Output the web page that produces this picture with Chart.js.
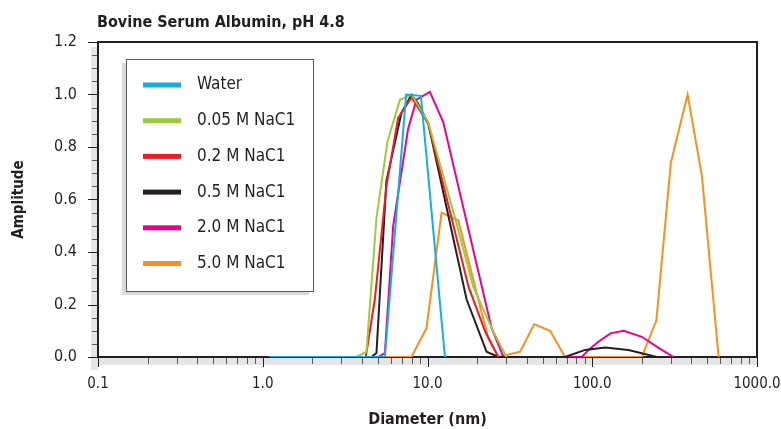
<!DOCTYPE html>
<html>
<head>
<meta charset="utf-8">
<script src="https://cdn.jsdelivr.net/npm/chart.js@4.4.0/dist/chart.umd.min.js"></script>
<style>
    html, body { margin: 0; padding: 0; background: #fff; }
</style>
</head>
<body>
<canvas id="dls" width="781" height="429"></canvas>
<script>
// diameter (nm) / amplitude
const waterD = [1.1, 5.51, 7.42, 9.12, 12.76];
const waterA = [0, 0, 1.0, 0.995, 0];

const nacl005D = [1.1, 3.70, 4.26, 4.90, 5.71, 6.80, 8.0, 10.1, 14.7, 18.9, 25.1, 30.2];
const nacl005A = [0, 0, 0.02, 0.53, 0.82, 0.98, 1.0, 0.895, 0.53, 0.27, 0.096, 0];

const nacl02D = [1.1, 4.22, 4.79, 5.63, 6.63, 8.0, 10.1, 17.7, 22.3, 26.9];
const nacl02A = [0, 0, 0.22, 0.65, 0.91, 0.99, 0.89, 0.27, 0.10, 0];

const nacl05D = [1.1, 4.57, 4.90, 5.63, 6.95, 8.0, 8.78, 10.1, 17.26, 22.84, 26.9, 68.4, 90.5, 119.8, 166, 246.6];
const nacl05A = [0, 0, 0.015, 0.67, 0.93, 1.0, 0.965, 0.89, 0.22, 0.02, 0, 0, 0.027, 0.036, 0.027, 0];

const nacl2D = [1.1, 5.01, 5.51, 6.19, 7.63, 8.57, 10.34, 12.46, 24.5, 28.9, 86.3, 96.2, 109, 129, 155, 200, 252.6, 312];
const nacl2A = [0, 0, 0.015, 0.50, 0.87, 0.98, 1.01, 0.895, 0.11, 0, 0, 0.03, 0.058, 0.09, 0.1, 0.077, 0.035, 0];

const nacl5D = [1.1, 7.99, 9.86, 12.17, 15.37, 23.4, 26.9, 36.5, 44.4, 55.5, 68.4, 200, 245, 300, 379, 463, 585];
const nacl5A = [0, 0, 0.11, 0.55, 0.52, 0.07, 0, 0.02, 0.125, 0.10, 0, 0, 0.14, 0.74, 1.0, 0.69, 0];

const seriesNames = ["Water", "0.05 M NaC1", "0.2 M NaC1", "0.5 M NaC1", "2.0 M NaC1", "5.0 M NaC1"];
const seriesColors = ["#12aee8", "#9fcb3b", "#ed1c24", "#231f20", "#ec008c", "#f7901e"];
const xTickValues = [0.1, 1, 10, 100, 1000];

const FONT = "'Liberation Sans Narrow', 'DejaVu Sans Condensed', 'Arial Narrow', sans-serif";

function pts(d, a) {
    return d.map((v, i) => ({ x: v, y: a[i] }));
}

const allD = [waterD, nacl005D, nacl02D, nacl05D, nacl2D, nacl5D];
const allA = [waterA, nacl005A, nacl02A, nacl05A, nacl2A, nacl5A];

let datasets = [];
for (let i = 0; i < seriesNames.length; i++) {
    datasets.push({
        label: seriesNames[i],
        data: pts(allD[i], allA[i]),
        borderColor: seriesColors[i],
        backgroundColor: seriesColors[i],
        borderWidth: 2,
        pointRadius: 0,
        tension: 0,
        fill: false
    });
}

// gray band, ticks, frame, legend box and title
const decor = {
    id: 'decor',
    beforeDatasetsDraw(chart) {
        const { ctx, chartArea: a, scales: { x, y } } = chart;
        ctx.save();
        ctx.fillStyle = '#e4e5e6';
        ctx.fillRect(a.left - 7, a.top + 5, 7, a.bottom - a.top + 8);
        ctx.fillRect(a.left - 7, a.bottom, a.right - a.left + 7, 8);

        // y ticks
        ctx.lineWidth = 1;
        for (let k = 0; k <= 24; k++) {
            let py = Math.round(y.getPixelForValue(k * 0.05)) + 0.5;
            ctx.strokeStyle = k % 4 == 0 ? '#231f20' : '#58595b';
            ctx.beginPath();
            ctx.moveTo(k % 4 == 0 ? a.left - 10 : a.left - 6, py);
            ctx.lineTo(a.left, py);
            ctx.stroke();
        }
        // x ticks
        for (let dec = 0.1; dec < 999; dec *= 10) {
            for (let m = 1; m <= 9; m++) {
                let px = Math.round(x.getPixelForValue(m * dec)) + 0.5;
                ctx.strokeStyle = m == 1 ? '#231f20' : '#58595b';
                ctx.beginPath();
                ctx.moveTo(px, a.bottom);
                ctx.lineTo(px, a.bottom + (m == 1 ? 10 : 7));
                ctx.stroke();
            }
        }
        let px = Math.round(x.getPixelForValue(1000)) + 0.5;
        ctx.strokeStyle = '#231f20';
        ctx.beginPath();
        ctx.moveTo(px, a.bottom);
        ctx.lineTo(px, a.bottom + 10);
        ctx.stroke();

        // frame
        ctx.strokeStyle = '#231f20';
        ctx.lineWidth = 2;
        ctx.strokeRect(a.left, a.top, a.right - a.left, a.bottom - a.top);
        ctx.restore();
    },
    afterDraw(chart) {
        const { ctx, chartArea: a } = chart;
        ctx.save();
        // title
        ctx.fillStyle = '#231f20';
        ctx.font = "bold 16px " + FONT;
        ctx.textAlign = 'left';
        ctx.textBaseline = 'alphabetic';
        ctx.fillText("Bovine Serum Albumin, pH 4.8", a.left - 1, 27);

        // legend
        let lx = a.left + 28, ly = a.top + 17, lw = 187, lh = 232;
        ctx.fillStyle = '#d8dadb';
        ctx.fillRect(lx - 4, ly + 4, lw, lh);
        ctx.fillStyle = '#fff';
        ctx.fillRect(lx, ly, lw, lh);
        ctx.strokeStyle = '#58595b';
        ctx.lineWidth = 1;
        ctx.strokeRect(lx + 0.5, ly + 0.5, lw, lh);
        ctx.font = "17px " + FONT;
        ctx.textBaseline = 'middle';
        chart.data.datasets.forEach((ds, i) => {
            let cy = ly + 26 + i * 35.7;
            ctx.fillStyle = ds.borderColor;
            ctx.fillRect(lx + 17, cy - 2.5, 38, 5);
            ctx.fillStyle = '#231f20';
            ctx.fillText(ds.label, lx + 71, cy);
        });
        ctx.restore();
    }
};

new Chart(document.getElementById('dls'), {
    type: 'line',
    data: { datasets: datasets },
    options: {
        responsive: false,
        animation: false,
        layout: { padding: { top: 42, right: 24, left: 0, bottom: 0 } },
        plugins: {
            legend: { display: false },
            tooltip: { enabled: false }
        },
        scales: {
            x: {
                type: 'logarithmic',
                min: 0.1,
                max: 1000,
                afterBuildTicks: (s) => { s.ticks = xTickValues.map(v => ({ value: v })); },
                afterFit: (s) => { s.height = 72; s.paddingLeft = 0; s.paddingRight = 0; },
                grid: { display: false, drawTicks: false },
                border: { display: false },
                ticks: {
                    autoSkip: false,
                    maxRotation: 0,
                    padding: 18,
                    color: '#231f20',
                    font: { family: FONT, size: 15 },
                    callback: (v) => Number(v).toFixed(1)
                },
                title: {
                    display: true,
                    text: 'Diameter (nm)',
                    color: '#231f20',
                    font: { family: FONT, size: 16, weight: 'bold' },
                    padding: { top: 0, bottom: 0 }
                }
            },
            y: {
                min: 0,
                max: 1.2,
                afterFit: (s) => { s.width = 98; s.paddingTop = 0; s.paddingBottom = 0; },
                grid: { display: false, drawTicks: false },
                border: { display: false },
                ticks: {
                    stepSize: 0.2,
                    padding: 21,
                    color: '#231f20',
                    font: { family: FONT, size: 16 },
                    callback: (v) => Number(v).toFixed(1)
                },
                title: {
                    display: true,
                    text: 'Amplitude',
                    color: '#231f20',
                    font: { family: FONT, size: 15, weight: 'bold' },
                    padding: { top: 10, bottom: 0 }
                }
            }
        }
    },
    plugins: [decor]
});
</script>
</body>
</html>
